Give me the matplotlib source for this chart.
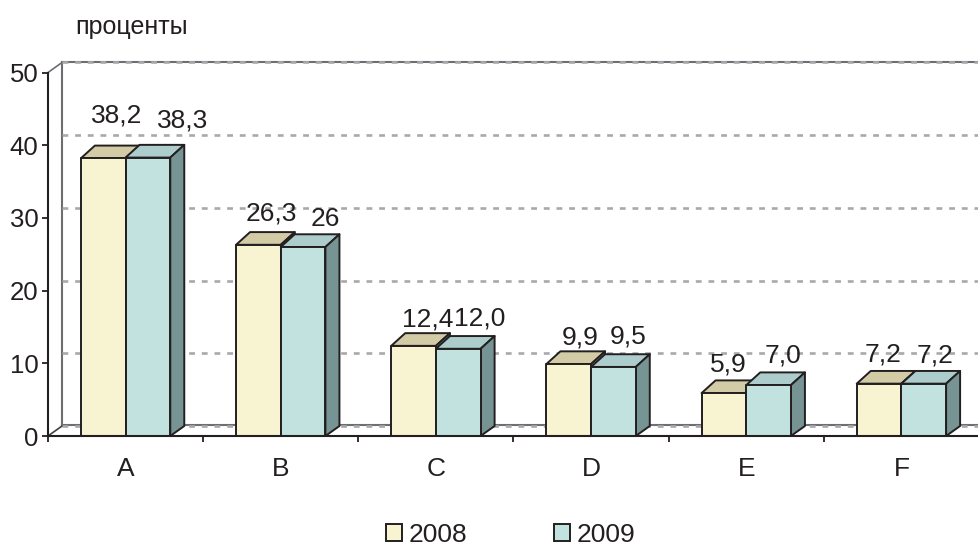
from matplotlib import pyplot as plt
from matplotlib.patches import Polygon, Patch

plt.rcParams['font.family'] = ['Liberation Sans', 'DejaVu Sans']

categories = ['A', 'B', 'C', 'D', 'E', 'F']
values_2008 = [38.2, 26.3, 12.4, 9.9, 5.9, 7.2]
values_2009 = [38.3, 26.0, 12.0, 9.5, 7.0, 7.2]
labels_2008 = ['38,2', '26,3', '12,4', '9,9', '5,9', '7,2']
labels_2009 = ['38,3', '26', '12,0', '9,5', '7,0', '7,2']
series_names = ['2008', '2009']
y_ticks = [0, 10, 20, 30, 40, 50]

W, H = 979, 548
dark = '#231F20'
yellow, yellow_top = '#F8F3D0', '#D3CBA6'
teal, teal_top, teal_side = '#C2E2E0', '#ADCDCD', '#759493'

fig = plt.figure(figsize=(W / 100, H / 100), dpi=100)
ax = fig.add_axes([48 / W, 1 - 436 / H, (W - 48) / W, (436 - 72.5) / H])
ax.set_xlim(0, 6)
ax.set_ylim(0, 50)

# depth of the fake 3d box, axis units
px_x = 6 / (W - 48)
px_y = 50 / (436 - 72.5)
depth_x = 14 * px_x
depth_y = 10 * px_y
top_depth_y = 12.7 * px_y
bar_w = 0.288

# back wall
for v in y_ticks:
    ax.plot([depth_x, 6], [v + depth_y, v + depth_y], color='#A7A9AC', lw=1.9,
            ls=(0, (2.2, 2.6)), clip_on=False, zorder=2)
ax.plot([depth_x, 6], [depth_y + 0.15, depth_y + 0.15], color='#6D6E71', lw=1.5, clip_on=False, zorder=1)
ax.plot([depth_x, 6], [50 + depth_y, 50 + depth_y], color='#6D6E71', lw=1.5, clip_on=False, zorder=1)
ax.plot([depth_x, depth_x], [depth_y, 50 + depth_y], color='#6D6E71', lw=1.5, clip_on=False, zorder=1)
ax.plot([0, depth_x], [50, 50 + depth_y], color='#6D6E71', lw=1.2, clip_on=False, zorder=1)
ax.plot([0, depth_x], [0, depth_y], color='#414042', lw=1.2, clip_on=False, zorder=1)


def draw_box(x0, x1, v, front, top, side):
    pts = [
        ([(x0, v), (x0 + depth_x, v + top_depth_y), (x1 + depth_x, v + top_depth_y), (x1, v)], top),
        ([(x1, 0), (x1 + depth_x, depth_y), (x1 + depth_x, v + top_depth_y), (x1, v)], side),
        ([(x0, 0), (x0, v), (x1, v), (x1, 0)], front),
    ]
    for xy, c in pts:
        ax.add_patch(Polygon(xy, closed=True, facecolor=c, edgecolor=dark, lw=1.4,
                             joinstyle='round', clip_on=False, zorder=3))


for i in range(len(categories)):
    mid = i + 0.5
    draw_box(mid - bar_w, mid, values_2008[i], yellow, yellow_top, teal_side)
    draw_box(mid, mid + bar_w, values_2009[i], teal, teal_top, teal_side)

# label offsets from the front top corner of the bar middle, in pixels
offsets_2008 = [(13, 43), (13, 31), (14, 26), (11, 27), (4, 29), (4, 29)]
offsets_2009 = [(35, 37), (22, 28), (21, 30), (15, 30), (14, 30), (11, 28)]
for i in range(len(categories)):
    mid = i + 0.5
    ax.annotate(labels_2008[i], (mid - bar_w / 2, values_2008[i]),
                xytext=(offsets_2008[i][0] * 0.72, offsets_2008[i][1] * 0.72),
                textcoords='offset points', ha='center', va='center', fontsize=19,
                color=dark, zorder=5, annotation_clip=False)
    ax.annotate(labels_2009[i], (mid + bar_w / 2, values_2009[i]),
                xytext=(offsets_2009[i][0] * 0.72, offsets_2009[i][1] * 0.72),
                textcoords='offset points', ha='center', va='center', fontsize=19,
                color=dark, zorder=5, annotation_clip=False)

for s in ['top', 'right']:
    ax.spines[s].set_visible(False)
for s in ['left', 'bottom']:
    ax.spines[s].set_linewidth(1.5)
    ax.spines[s].set_color(dark)
    ax.spines[s].set_zorder(4)

ax.set_yticks(y_ticks)
ax.set_xticks(range(7))
ax.set_xticklabels([])
ax.set_xticks([i + 0.5 for i in range(len(categories))], minor=True)
ax.set_xticklabels(categories, minor=True)
ax.tick_params(axis='x', which='major', length=4, width=1.3, color=dark)
ax.tick_params(axis='x', which='minor', length=0, pad=15, labelsize=19, labelcolor=dark)
ax.tick_params(axis='y', length=4, width=1.3, color=dark, pad=3, labelsize=18.5, labelcolor=dark)

fig.text(75 / W, 1 - 27 / H, 'проценты', fontsize=18, color=dark, ha='left', va='center')

handles = [Patch(facecolor=yellow, edgecolor=dark, lw=1.4), Patch(facecolor=teal, edgecolor=dark, lw=1.4)]
fig.legend(handles, series_names, ncol=2, frameon=False, fontsize=19, labelcolor=dark,
           loc='center', bbox_to_anchor=(511 / W, 1 - 535 / H), borderpad=0, borderaxespad=0,
           handlelength=0.6, handleheight=0.6, handletextpad=0.25, columnspacing=3.3)

fig.savefig('out.png', dpi=100)
